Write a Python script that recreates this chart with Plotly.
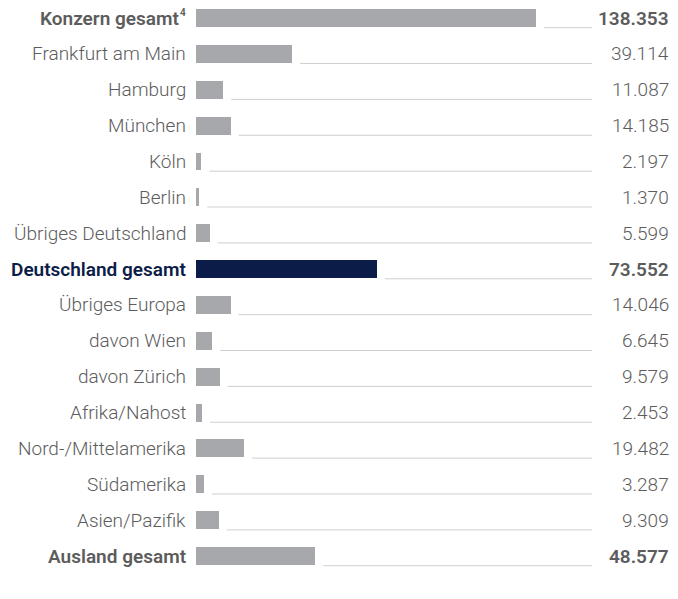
import plotly.graph_objects as go

# Daten
labels = ["Konzern gesamt", "Frankfurt am Main", "Hamburg", "München", "Köln", "Berlin",
          "Übriges Deutschland", "Deutschland gesamt", "Übriges Europa", "davon Wien",
          "davon Zürich", "Afrika/Nahost", "Nord-/Mittelamerika", "Südamerika",
          "Asien/Pazifik", "Ausland gesamt"]
values = [138353, 39114, 11087, 14185, 2197, 1370, 5599, 73552, 14046, 6645,
          9579, 2453, 19482, 3287, 9309, 48577]
footnotes = {0: "4"}
bold_rows = [0, 7, 15]
navy_rows = [7]

# die Seite hat 8 px Body-Rand, daher Figur etwas kleiner (sonst Scrollbalken)
W, H = 670, 583
left = 188
px_per_unit = 340 / 138353          # Konzern-Balken ~340 px breit
xmax = (W - left) / px_per_unit
gap = 8 / px_per_unit
line_end = 396 / px_per_unit

row_step = 35.87
first_row = 10
bottom = 17
y_top = -first_row / row_step
y_bot = (H - bottom - first_row) / row_step

GRAY = "#a7a8ab"
NAVY = "#0b1c48"
LINE = "#cfcfcf"
TXT = "#5c5c5c"
FS = 19

ys = list(range(len(values)))
bar_colors = [NAVY if i in navy_rows else GRAY for i in ys]

fig = go.Figure()
fig.add_trace(go.Bar(
    x=values, y=ys, orientation="h", width=0.5,
    marker=dict(color=bar_colors, line=dict(width=0)),
    hoverinfo="skip", showlegend=False,
))

# dünne Führungslinien vom Balkenende bis vor den Wert
for i, v in zip(ys, values):
    fig.add_trace(go.Scatter(
        x=[v + gap, line_end], y=[i + 0.27, i + 0.27], mode="lines",
        line=dict(color=LINE, width=1), hoverinfo="skip", showlegend=False,
    ))

for i, (lab, v) in enumerate(zip(labels, values)):
    is_bold = i in bold_rows
    col = NAVY if i in navy_rows else TXT
    wt = 600 if is_bold else 300
    shift = -8
    if i in footnotes:
        fig.add_annotation(
            x=0, y=i, xref="x", yref="y", text=footnotes[i], showarrow=False,
            xanchor="right", xshift=-8, yshift=6, yanchor="middle",
            font=dict(family="Roboto", size=10, color=col, weight=wt),
        )
        shift = -15
    fig.add_annotation(
        x=0, y=i, xref="x", yref="y", text=lab, showarrow=False,
        xanchor="right", xshift=shift, yanchor="middle",
        font=dict(family="Roboto", size=FS, color=col, weight=wt),
    )
    num = f"{v:,}".replace(",", ".")
    fig.add_annotation(
        x=1, y=i, xref="paper", yref="y", text=num, showarrow=False,
        xanchor="right", xshift=-7, yanchor="middle",
        font=dict(family="Roboto", size=FS, color=TXT, weight=wt),
    )

fig.update_layout(
    width=W, height=H,
    margin=dict(l=left, r=0, t=0, b=bottom),
    paper_bgcolor="white", plot_bgcolor="white",
    bargap=0,
    xaxis=dict(range=[0, xmax], visible=False, fixedrange=True),
    yaxis=dict(range=[y_bot, y_top], visible=False, fixedrange=True),
)

fig.write_html("out.html")
